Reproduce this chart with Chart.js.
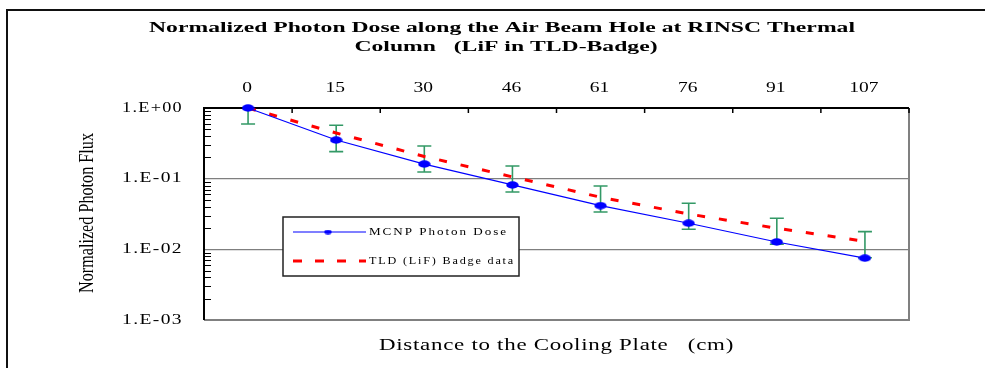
<!DOCTYPE html>
<html>
<head>
<meta charset="utf-8">
<script src="https://cdn.jsdelivr.net/npm/chart.js@4.4.0/dist/chart.umd.min.js"></script>
<style>
  html, body { margin: 0; padding: 0; background: #fff; }
</style>
</head>
<body>
<canvas id="doseChart" width="985" height="368"></canvas>
<script>
// Data
const distances = ['0', '15', '30', '46', '61', '76', '91', '107'];
const mcnpDose = [1.0, 0.352, 0.161, 0.0815, 0.0415, 0.0234, 0.0127, 0.0075];
const tldDose = [1.0, 0.443, 0.206, 0.106, 0.0546, 0.0316, 0.0199, 0.013];
const tldErrHigh = [1.0, 0.569, 0.290, 0.151, 0.0788, 0.0449, 0.0275, 0.0178];
const tldErrLow = [0.594, 0.241, 0.124, 0.0649, 0.0338, 0.0192, 0.0118, 0.0076];
const yTicks = [1, 0.1, 0.01, 0.001];
const yTickLabels = ['1.E+00', '1.E-01', '1.E-02', '1.E-03'];

const titleLines = ['Normalized Photon Dose along the Air Beam Hole at RINSC Thermal', 'Column   (LiF in TLD-Badge)'];
const xTitle = 'Distance to the Cooling Plate   (cm)';
const yTitle = 'Normalized Photon Flux';
const legendLabels = ['MCNP Photon Dose', 'TLD (LiF) Badge data'];

const SERIF = '"Liberation Serif", "DejaVu Serif", serif';

// blue ellipse marker (the original is stretched sideways)
function makeEllipse(w, h) {
    const c = document.createElement('canvas');
    c.width = w; c.height = h;
    const g = c.getContext('2d');
    g.fillStyle = '#0000ff';
    g.beginPath();
    g.ellipse(w / 2, h / 2, w / 2 - 0.3, h / 2 - 0.3, 0, 0, Math.PI * 2);
    g.fill();
    return c;
}
const bigDot = makeEllipse(13, 8);
const smallDot = makeEllipse(8, 5);

// draw text squeezed / stretched horizontally
function drawText(ctx, text, x, y, font, opts) {
    opts = opts || {};
    ctx.save();
    ctx.font = font;
    ctx.fillStyle = opts.color || '#000';
    ctx.textBaseline = 'middle';
    ctx.textAlign = 'left';
    if (opts.spacing) ctx.letterSpacing = opts.spacing + 'px';
    const raw = ctx.measureText(text).width;
    const sx = opts.width ? opts.width / raw : (opts.sx || 1);
    const w = raw * sx;
    const x0 = opts.align === 'center' ? x - w / 2 : opts.align === 'right' ? x - w : x;
    ctx.translate(x0, y);
    ctx.scale(sx, 1);
    ctx.fillText(text, 0, 0);
    ctx.restore();
    return sx;
}

const decorPlugin = {
    id: 'decor',
    beforeDraw(chart) {
        const ctx = chart.ctx;
        ctx.save();
        ctx.fillStyle = '#fff';
        ctx.fillRect(0, 0, chart.width, chart.height);
        // outer frame
        ctx.strokeStyle = '#111';
        ctx.lineWidth = 2;
        ctx.beginPath();
        ctx.moveTo(7, chart.height);
        ctx.lineTo(7, 10);
        ctx.lineTo(chart.width, 10);
        ctx.stroke();
        ctx.restore();
    },
    beforeDatasetsDraw(chart) {
        const ctx = chart.ctx;
        const a = chart.chartArea;
        const x = chart.scales.x;
        const y = chart.scales.y;
        ctx.save();

        // plot border: left/top black, right/bottom grey
        ctx.lineWidth = 2;
        ctx.strokeStyle = '#808080';
        ctx.beginPath();
        ctx.moveTo(a.right, a.top);
        ctx.lineTo(a.right, a.bottom);
        ctx.lineTo(a.left, a.bottom);
        ctx.stroke();
        ctx.strokeStyle = '#000';
        ctx.beginPath();
        ctx.moveTo(a.left, a.bottom);
        ctx.lineTo(a.left, a.top);
        ctx.lineTo(a.right, a.top);
        ctx.stroke();

        // minor log ticks on the left, inside the plot
        ctx.lineWidth = 1;
        for (let d = 0.001; d < 1; d *= 10) {
            for (let m = 2; m <= 9; m++) {
                const py = Math.round(y.getPixelForValue(m * d)) + 0.5;
                ctx.beginPath();
                ctx.moveTo(a.left, py);
                ctx.lineTo(a.left + 7, py);
                ctx.stroke();
            }
        }

        // category boundary ticks on the top axis
        ctx.lineWidth = 1.5;
        for (let i = 0; i <= distances.length; i++) {
            const px = i === 0 ? a.left : i === distances.length ? a.right
                : (x.getPixelForValue(i - 1) + x.getPixelForValue(i)) / 2;
            ctx.beginPath();
            ctx.moveTo(px, a.top);
            ctx.lineTo(px, a.top + 5);
            ctx.stroke();
        }

        // error bars on the TLD data
        ctx.strokeStyle = '#339966';
        ctx.lineWidth = 1.6;
        tldErrLow.forEach((lo, i) => {
            const px = x.getPixelForValue(i);
            const y1 = y.getPixelForValue(tldErrHigh[i]);
            const y2 = y.getPixelForValue(lo);
            ctx.beginPath();
            ctx.moveTo(px, y1);
            ctx.lineTo(px, y2);
            if (tldErrHigh[i] < 1) {
                ctx.moveTo(px - 7, y1);
                ctx.lineTo(px + 7, y1);
            }
            ctx.moveTo(px - 7, y2);
            ctx.lineTo(px + 7, y2);
            ctx.stroke();
        });
        ctx.restore();
    },
    afterDatasetsDraw(chart) {
        const ctx = chart.ctx;
        const a = chart.chartArea;
        const x = chart.scales.x;
        const y = chart.scales.y;

        // legend box
        ctx.save();
        ctx.fillStyle = '#fff';
        ctx.fillRect(283, 217, 236, 59);
        ctx.strokeStyle = '#222';
        ctx.lineWidth = 1.5;
        ctx.strokeRect(283, 217, 236, 59);
        ctx.strokeStyle = '#0000ff';
        ctx.lineWidth = 1.2;
        ctx.beginPath();
        ctx.moveTo(293, 232);
        ctx.lineTo(366, 232);
        ctx.stroke();
        ctx.drawImage(smallDot, 324, 229.5);
        ctx.strokeStyle = '#ff0000';
        ctx.lineWidth = 3;
        ctx.setLineDash([9, 13]);
        ctx.beginPath();
        ctx.moveTo(293, 261);
        ctx.lineTo(366, 261);
        ctx.stroke();
        ctx.restore();
        drawText(ctx, legendLabels[0], 369, 232, '10px ' + SERIF, { width: 139, spacing: 1.5 });
        drawText(ctx, legendLabels[1], 369, 261, '10px ' + SERIF, { width: 146, spacing: 1.5 });

        // title
        const sx = drawText(ctx, titleLines[0], 502, 28, 'bold 15px ' + SERIF, { width: 706, align: 'center' });
        drawText(ctx, titleLines[1], 506, 47, 'bold 15px ' + SERIF, { sx: sx, align: 'center' });

        // top category labels
        distances.forEach((d, i) => {
            drawText(ctx, d, x.getPixelForValue(i) - 1, 88, '15px ' + SERIF, { sx: 1.3, align: 'center' });
        });

        // y tick labels
        yTicks.forEach((v, i) => {
            drawText(ctx, yTickLabels[i], a.left - 21, y.getPixelForValue(v), '14px ' + SERIF, { width: 61, spacing: 1, align: 'right' });
        });

        // axis titles
        drawText(ctx, xTitle, (a.left + a.right) / 2, 346, '16px ' + SERIF, { width: 355, align: 'center', spacing: 0.5 });
        ctx.save();
        ctx.translate(88, 213);
        ctx.rotate(-Math.PI / 2);
        drawText(ctx, yTitle, 0, 0, '20px ' + SERIF, { width: 160, align: 'center' });
        ctx.restore();
    }
};

const ctx = document.getElementById('doseChart').getContext('2d');
new Chart(ctx, {
    type: 'line',
    data: {
        labels: distances,
        datasets: [{
            label: legendLabels[0],
            data: mcnpDose,
            borderColor: '#0000ff',
            backgroundColor: '#0000ff',
            borderWidth: 1.2,
            pointStyle: bigDot,
            pointRadius: 6,
            tension: 0,
            clip: false,
            order: 0
        }, {
            label: legendLabels[1],
            data: tldDose,
            borderColor: '#ff0000',
            borderWidth: 3,
            borderDash: [8, 14],
            pointRadius: 0,
            tension: 0,
            clip: false,
            order: 1
        }]
    },
    options: {
        responsive: false,
        animation: false,
        layout: {
            padding: { left: 204, right: 76, top: 108, bottom: 48 }
        },
        plugins: {
            legend: { display: false },
            title: { display: false },
            tooltip: { enabled: false }
        },
        scales: {
            x: {
                type: 'category',
                position: 'top',
                offset: true,
                ticks: { display: false },
                grid: { display: false },
                border: { display: false },
                afterFit: s => { s.height = 0; }
            },
            y: {
                type: 'logarithmic',
                min: 0.001,
                max: 1,
                afterBuildTicks: s => { s.ticks = yTicks.map(v => ({ value: v })); },
                ticks: { display: false },
                grid: { color: '#7f7f7f', lineWidth: 1.2, drawTicks: false },
                border: { display: false },
                afterFit: s => { s.width = 0; }
            }
        }
    },
    plugins: [decorPlugin]
});
</script>
</body>
</html>
